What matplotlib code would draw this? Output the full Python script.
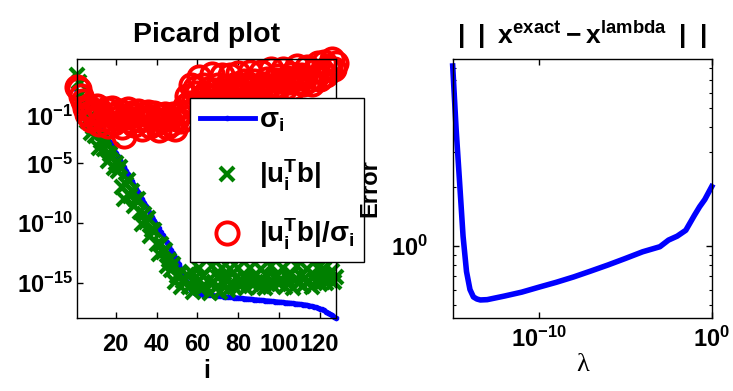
import numpy as np
import matplotlib
matplotlib.use('Agg')
import matplotlib.pyplot as plt
from matplotlib.ticker import FixedLocator, NullLocator, NullFormatter

plt.rcParams['font.family'] = ['Liberation Sans', 'DejaVu Sans']
plt.rcParams['font.weight'] = 'bold'
plt.rcParams['mathtext.fontset'] = 'custom'
plt.rcParams['mathtext.rm'] = 'Liberation Sans:bold'
plt.rcParams['mathtext.it'] = 'Liberation Sans:bold'
plt.rcParams['mathtext.bf'] = 'Liberation Sans:bold'
plt.rcParams['mathtext.default'] = 'rm'

# Picard plot data (log10 of the values), i = 1..128
log_sigma = [
    1.0, 0.6, 0.2, -0.1, -0.4, -0.6, -0.9, -1.1, -1.4, -1.6,
    -1.8, -2.0, -2.3, -2.5, -2.7, -2.9, -3.2, -3.5, -3.8, -4.1,
    -4.4, -4.7, -5.0, -5.3, -5.6, -5.9, -6.2, -6.5, -6.8, -7.1,
    -7.4, -7.7, -8.0, -8.3, -8.6, -8.9, -9.2, -9.5, -9.8, -10.1,
    -10.4, -10.7, -11.0, -11.3, -11.6, -11.9, -12.2, -12.5, -12.8, -13.1,
    -13.4, -13.8, -14.1, -14.5, -14.9, -15.3, -15.6, -15.75, -15.85, -15.9,
    -15.92, -15.93, -15.95, -15.97, -15.98, -16.0, -16.02, -16.03, -16.05, -16.07,
    -16.08, -16.1, -16.12, -16.13, -16.15, -16.17, -16.18, -16.2, -16.22, -16.23,
    -16.25, -16.27, -16.28, -16.3, -16.32, -16.33, -16.35, -16.37, -16.38, -16.4,
    -16.42, -16.43, -16.45, -16.47, -16.48, -16.5, -16.52, -16.53, -16.55, -16.57,
    -16.58, -16.6, -16.62, -16.63, -16.65, -16.67, -16.69, -16.71, -16.73, -16.75,
    -16.77, -16.79, -16.81, -16.84, -16.88, -16.92, -16.96, -17.01, -17.06, -17.12,
    -17.19, -17.27, -17.36, -17.46, -17.57, -17.69, -17.8, -17.9,
]
log_utb = [
    2.4, 1.8, 0.8, 0.1, -0.8, -1.5, -1.2, -2.5, -2.0, -2.7,
    -2.0, -3.7, -3.1, -3.8, -3.2, -4.8, -4.2, -3.9, -5.4, -5.0,
    -5.6, -5.3, -7.0, -8.0, -6.7, -6.4, -7.7, -7.3, -8.6, -8.1,
    -8.0, -9.1, -10.1, -9.2, -9.9, -9.6, -11.1, -10.6, -10.6, -11.7,
    -12.6, -11.7, -12.4, -12.2, -13.6, -13.1, -13.9, -13.4, -14.9, -14.4,
    -14.2, -15.3, -14.8, -14.7, -14.3, -15.3, -14.1, -15.7, -14.6, -15.0,
    -13.7, -15.5, -14.4, -15.2, -14.8, -15.8, -13.6, -14.9, -15.4, -14.5,
    -15.7, -13.7, -15.1, -14.7, -15.6, -13.8, -15.0, -15.3, -14.6, -13.7,
    -15.2, -14.8, -14.4, -15.4, -14.7, -13.7, -15.1, -14.5, -14.9, -15.3,
    -13.8, -14.8, -15.4, -14.4, -15.0, -13.6, -15.2, -14.6, -14.3, -15.1,
    -14.7, -13.7, -15.3, -14.5, -14.9, -14.2, -15.4, -14.7, -13.6, -15.0,
    -14.4, -15.2, -14.6, -13.8, -14.9, -15.3, -14.3, -14.8, -13.7, -15.1,
    -14.5, -13.8, -15.0, -14.4, -14.7, -13.95, -14.9, -14.5,
]

# error norm vs regularization parameter
log_lambda = [-15.0, -14.8, -14.6, -14.4, -14.2, -14.0, -13.8, -13.6, -13.4, -13.0,
              -12.0, -11.0, -10.0, -9.0, -8.0, -7.0, -6.0, -5.0, -4.0, -3.0,
              -2.5, -2.0, -1.5, -1.0, -0.7, -0.4, 0.0]
err = [8.2, 3.9, 2.1, 1.12, 0.74, 0.60, 0.55, 0.537, 0.531, 0.533,
       0.556, 0.582, 0.617, 0.653, 0.695, 0.745, 0.80, 0.863, 0.933, 0.99,
       1.07, 1.12, 1.20, 1.43, 1.58, 1.72, 2.0]

idx = np.arange(1, len(log_sigma) + 1)
sigma = 10.0 ** np.array(log_sigma)
utb = 10.0 ** np.array(log_utb)
eta = utb / sigma
lam = 10.0 ** np.array(log_lambda)

fig = plt.figure(figsize=(7.33, 3.91), dpi=100)
ax1 = fig.add_axes([0.10505, 0.1867, 0.35334, 0.6624])
ax2 = fig.add_axes([0.6176, 0.1867, 0.35334, 0.6624])

ax1.semilogy(idx, sigma, '.-', color='blue', lw=3.5, ms=6, label=r'$\sigma_i$', clip_on=False)
ax1.semilogy(idx, utb, 'x', color='green', ms=10, mew=3, label=r'$|u_i^Tb|$', clip_on=False)
ax1.semilogy(idx, eta, 'o', color='red', mfc='none', ms=16, mew=2.8,
             label=r'$|u_i^Tb|/\sigma_i$', clip_on=False)
ax1.set_xlim(1, 128)
ax1.set_ylim(10 ** -17.9, 10 ** 3.7)
ax1.xaxis.set_major_locator(FixedLocator([20, 40, 60, 80, 100, 120]))
ax1.yaxis.set_major_locator(FixedLocator([1e-15, 1e-10, 1e-5, 1e-1]))
ax1.yaxis.set_minor_locator(NullLocator())
ax1.tick_params(axis='both', which='both', direction='in', top=True, right=True,
                length=4, width=1, labelsize=17)
ax1.tick_params(axis='x', pad=11)
ax1.tick_params(axis='y', pad=3)
ax1.set_title('Picard plot', fontsize=20.5, fontweight='bold', pad=12)
ax1.set_xlabel('i', fontsize=18, fontweight='bold', labelpad=2)
leg = ax1.legend(loc='upper left', bbox_to_anchor=(0.436, 0.849), borderaxespad=0,
                 fontsize=20, handlelength=2.0, handletextpad=0.15, labelspacing=0.85,
                 borderpad=0.35, fancybox=False, framealpha=1, edgecolor='black')
leg.get_frame().set_linewidth(1.0)
leg.set_zorder(10)

ax2.loglog(lam, err, '-', color='blue', lw=4, clip_on=False)
ax2.set_xlim(1e-15, 1e0)
ax2.set_ylim(0.43, 8.9)
ax2.xaxis.set_major_locator(FixedLocator([1e-10, 1e0]))
ax2.xaxis.set_minor_locator(NullLocator())
ax2.yaxis.set_major_locator(FixedLocator([1e0]))
ax2.yaxis.set_minor_locator(FixedLocator([0.5, 0.6, 0.7, 0.8, 0.9, 2, 3, 4, 5, 6, 7, 8]))
ax2.yaxis.set_minor_formatter(NullFormatter())
ax2.tick_params(axis='both', which='major', direction='in', top=True, right=True,
                length=4, width=1, labelsize=17)
ax2.tick_params(axis='both', which='minor', direction='in', top=True, right=True,
                length=2.5, width=0.8)
ax2.tick_params(axis='x', pad=6.5)
ax2.tick_params(axis='y', which='major', pad=18)
ax2.set_title(r'$|\;\;|\;\;x^{exact} - x^{lambda}\;\;|\;\;|$', fontsize=19, pad=11)
ax2.set_xlabel('λ', fontsize=19, fontweight='normal', family=['Liberation Serif', 'DejaVu Serif'],
               labelpad=1)
ax2.set_ylabel('Error', fontsize=17, fontweight='bold')
ax2.yaxis.set_label_coords((381 - 452.7) / 259, 0.5)

for ax in (ax1, ax2):
    for sp in ax.spines.values():
        sp.set_linewidth(1.0)

fig.savefig('out.png', dpi=100)
